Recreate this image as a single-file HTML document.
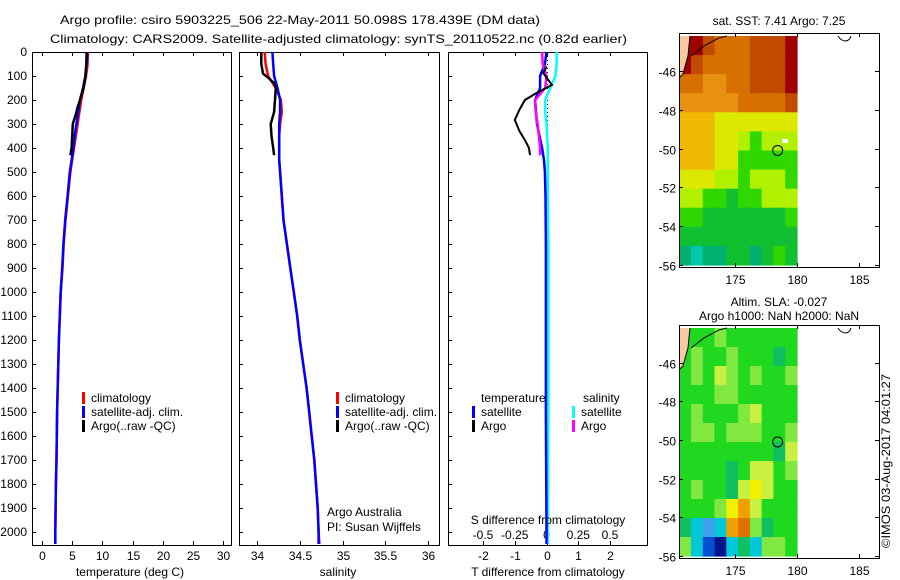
<!DOCTYPE html>
<html><head><meta charset="utf-8"><style>
body{margin:0;background:#fff}
svg{display:block}
text{font-family:"Liberation Sans",sans-serif;font-size:12px;fill:#000}
</style></head><body>
<svg id="fig" width="900" height="580" viewBox="0 0 900 580" xmlns="http://www.w3.org/2000/svg">
<text x="60" y="24" textLength="480" lengthAdjust="spacingAndGlyphs" font-size="13">Argo profile: csiro 5903225_506 22-May-2011 50.098S 178.439E (DM data)</text>
<text x="50" y="43" textLength="577" lengthAdjust="spacingAndGlyphs" font-size="13">Climatology: CARS2009. Satellite-adjusted climatology: synTS_20110522.nc (0.82d earlier)</text>
<g id="g"></g>
<text transform="translate(890,548) rotate(-90)" textLength="174" lengthAdjust="spacingAndGlyphs">©IMOS 03-Aug-2017 04:01:27</text>
</svg>
<script>
// ---- profile data ----
const depthT = [0,50,100,150,200,250,300,350,400,450,500,600,700,800,900,1000,1100,1200,1300,1400,1500,1600,1700,1800,1900,2000,2050];
const tempClim = [7.6,7.55,7.3,6.9,6.5,6.2,5.9,5.6,5.3,5.0,4.7,4.3,3.9,3.6,3.4,3.1,2.95,2.8,2.7,2.6,2.5,2.45,2.4,2.3,2.25,2.2,2.2];
const tempSat = [7.5,7.4,7.2,6.8,6.3,6.0,5.7,5.4,5.2,4.9,4.6,4.25,3.85,3.55,3.35,3.1,2.95,2.8,2.7,2.6,2.5,2.45,2.4,2.3,2.25,2.2,2.2];
const salClim = [34.09,34.1,34.13,34.22,34.28,34.29,34.27,34.26,34.26,34.26,34.27,34.29,34.31,34.35,34.39,34.43,34.47,34.5,34.54,34.58,34.61,34.64,34.67,34.69,34.71,34.72,34.73];
const salSat = [34.18,34.19,34.2,34.24,34.27,34.27,34.26,34.26,34.26,34.26,34.27,34.29,34.31,34.35,34.39,34.43,34.47,34.5,34.54,34.58,34.61,34.64,34.67,34.69,34.71,34.72,34.72];
const depthArgoT = [0,50,100,150,200,230,260,300,350,400,430];
const tempArgo = [7.4,7.35,7.2,6.9,6.3,5.9,5.6,5.1,5.0,4.9,4.7];
const depthArgoS = [0,50,90,110,130,150,200,250,300,350,400,430];
const salArgo = [34.05,34.05,34.07,34.14,34.2,34.22,34.21,34.2,34.16,34.17,34.19,34.2];
const depthD = [0,50,100,150,200,250,300,350,400,450,500,600,800,1000,1500,2000,2050];
const tdiffSat = [0,-0.05,-0.2,-0.2,-0.36,-0.33,-0.3,-0.22,-0.14,-0.08,-0.05,-0.03,-0.02,-0.02,-0.02,0,0];
const sdiffSat = [0.08,0.08,0.07,0.03,-0.01,-0.01,0,0.005,0.01,0.01,0.01,0.01,0.015,0.015,0.015,0.01,0.01];
const depthDA = [60,88,137,170,200,240,283,330,367,400,430];
const tdiffArgo = [0.0,-0.1,0.17,-0.3,-0.68,-0.85,-1.0,-0.85,-0.68,-0.55,-0.52];
const depthSA = [0,50,100,150,200,250,300,350,400,430];
const sdiffArgo = [-0.035,-0.03,0,-0.01,-0.09,-0.085,-0.07,-0.06,-0.05,-0.05];
const depthTicks = [0,100,200,300,400,500,600,700,800,900,1000,1100,1200,1300,1400,1500,1600,1700,1800,1900,2000];
const tempTicks = [0,5,10,15,20,25,30];
const salTicks = [34,34.5,35,35.5,36];
const tdTicks = [-2,-1,0,1,2];
const sdTicks = [-0.5,-0.25,0,0.25,0.5];
// ---- map data (rows top->bottom lat -44.2..-56, cols lon 170.5..180) ----
const sstGrid = [
[9,9,8,7,7,7,8,8,8,9],
[9,8,7,7,7,7,8,8,8,9],
[7,7,6,6,7,7,8,8,8,9],
[6,6,6,6,6,7,7,7,7,8],
[5,5,5,4,4,4,4,4,4,4],
[5,5,5,4,4,3,2,3,3,3],
[5,5,5,4,4,2,2,2,2,2],
[4,4,4,3,3,2,3,3,3,2],
[3,3,2,2,1,2,2,3,3,3],
[2,2,1,1,1,1,1,1,1,2],
[1,1,1,1,1,1,1,1,1,1],
[0,-1,0,0,1,1,0,1,2,1]];
const slaGrid = [
[1,1,1,2,1,1,1,1,1,1],
[1,2,1,1,2,1,1,1,0,1],
[1,2,1,3,2,1,2,1,1,2],
[1,1,1,2,2,1,1,1,1,1],
[1,2,1,1,1,2,3,1,1,1],
[1,2,2,1,2,2,2,1,1,2],
[1,1,1,1,1,1,1,1,0,3],
[1,1,1,1,0,1,3,3,1,2],
[1,2,1,1,0,3,4,3,1,1],
[1,1,1,2,4,5,3,1,1,1],
[0,-1,-2,-1,5,6,2,0,1,1],
[2,-1,-3,-4,-1,0,-1,2,2,1]];
const mapLonTicks = [175,180,185];
const mapLatTicks = [-46,-48,-50,-52,-54,-56];
const argoLon = 178.439, argoLat = -50.098;

const NS="http://www.w3.org/2000/svg";
const G=document.getElementById('g');
function el(tag,attrs,parent){const e=document.createElementNS(NS,tag);for(const k in attrs)e.setAttribute(k,attrs[k]);(parent||G).appendChild(e);return e;}
function txt(x,y,s,anchor,parent){const t=el('text',{x:x,y:y,'text-anchor':anchor||'start'},parent);t.textContent=s;return t;}

const yTop=52,yBot=545;
const yD=d=>yTop+d*0.24;
function lin(d0,d1,r0,r1){return v=>r0+(v-d0)/(d1-d0)*(r1-r0);}
const xT=lin(0,30,42,223), xS=lin(34,36,257,428), xTd=lin(0,2,546.5,610), xSd=lin(0,0.5,546.5,610);

function panel(x0,x1,name){
  const g=el('g',{});
  
  
  return g;
}
function frame(g,x0,x1){
  const r=el('rect',{x:x0+0.5,y:yTop+0.5,width:x1-x0,height:yBot-yTop,fill:'none',stroke:'#000','stroke-width':1},g);
  
  
  depthTicks.forEach(d=>{el('line',{x1:x0,x2:x0+4,y1:yD(d)+0.5,y2:yD(d)+0.5,stroke:'#000'},g);});
}
function line(g,xs,ds,xf,color,name,w){
  const p=el('polyline',{points:xs.map((v,i)=>xf(v).toFixed(1)+','+yD(ds[i]).toFixed(1)).join(' '),fill:'none',stroke:color,'stroke-width':w||2.5},g);
  
  
}
function xticks(g,ticks,xf,y,labels){
  ticks.forEach(t=>{const x=Math.round(xf(t))+0.5;
    el('line',{x1:x,x2:x,y1:yBot,y2:yBot-4,stroke:'#000'},g);
    el('line',{x1:x,x2:x,y1:yTop,y2:yTop+4,stroke:'#000'},g);
    if(labels){const l=txt(x,y,String(t),'middle',g);}
  });
}
function legendEntry(g,x,y,color,label){
  const e=el('g',{},g);
  
  
  el('rect',{x:x,y:y-10,width:3,height:12,fill:color},e);
  txt(x+9,y,label,'start',e);
}

// y tick labels
const yl=el('g',{});


depthTicks.forEach(d=>{const t=txt(27,yD(d)+4,String(d),'end',yl);});

// panel 1: temperature
const p1=panel(32,231,'temperature-panel');
frame(p1,32,231);
xticks(p1,tempTicks,xT,560,true);
line(p1,tempClim,depthT,xT,'#ff0000','climatology-temperature-line');
line(p1,tempSat,depthT,xT,'#0000ff','satellite-temperature-line');
line(p1,tempArgo,depthArgoT,xT,'#000000','argo-temperature-line');
legendEntry(p1,82,402,'#ff0000','climatology');
legendEntry(p1,82,416,'#0000ff','satellite-adj. clim.');
legendEntry(p1,82,430,'#000000','Argo(..raw -QC)');
let t=txt(130,576,'temperature (deg C)','middle',p1);

// panel 2: salinity
const p2=panel(239,439,'salinity-panel');
frame(p2,239,439);
xticks(p2,salTicks,xS,560,true);
line(p2,salClim,depthT,xS,'#ff0000','climatology-salinity-line');
line(p2,salSat,depthT,xS,'#0000ff','satellite-salinity-line');
line(p2,salArgo,depthArgoS,xS,'#000000','argo-salinity-line');
legendEntry(p2,336,402,'#ff0000','climatology');
legendEntry(p2,336,416,'#0000ff','satellite-adj. clim.');
legendEntry(p2,336,430,'#000000','Argo(..raw -QC)');
t=txt(327,516,'Argo Australia','start',p2);
t=txt(327,531,'PI: Susan Wijffels','start',p2);
t=txt(338,576,'salinity','middle',p2);

// panel 3: differences
const p3=panel(448,647,'difference-panel');
frame(p3,448,647);
xticks(p3,tdTicks,xTd,560,true);
sdTicks.forEach(s=>{const l=txt(xSd(s),539,String(s),'middle',p3);});
el('line',{x1:547.5,x2:547.5,y1:yTop,y2:yBot,stroke:'#000','stroke-dasharray':'1,3'},p3);
line(p3,sdiffSat,depthD,xSd,'#00ffff','satellite-salinity-diff-line');
line(p3,tdiffSat,depthD,xTd,'#0000ff','satellite-temperature-diff-line');
line(p3,sdiffArgo,depthSA,xSd,'#ff00ff','argo-salinity-diff-line');
line(p3,tdiffArgo,depthDA,xTd,'#000000','argo-temperature-diff-line',2);
txt(481,402,'temperature','start',p3);
txt(583,402,'salinity','start',p3);
legendEntry(p3,472,416,'#0000ff','satellite');
legendEntry(p3,472,430,'#000000','Argo');
legendEntry(p3,572,416,'#00ffff','satellite');
legendEntry(p3,572,430,'#ff00ff','Argo');
t=txt(548,524,'S difference from climatology','middle',p3);
t=txt(548,576,'T difference from climatology','middle',p3);

// maps
const sstColors={'-1':'#00c8a8','0':'#00b070','1':'#10c030','2':'#30d800','3':'#b0f000','4':'#dce800','5':'#f0b800','6':'#e89010','7':'#d87000','8':'#c04a00','9':'#a00000'};
const slaColors={'-4':'#001490','-3':'#0050d0','-2':'#40a0f0','-1':'#00c8d8','0':'#10c060','1':'#20d820','2':'#80e840','3':'#c8f040','4':'#f0f000','5':'#f0a000','6':'#e07000'};
function drawMap(name,y0,y1,grid,colors,title1,title2){
  const g=el('g',{});
  
  
  const x0=679,x1=879;
  const lonX=lin(175,185,735,859);
  const latY=lin(-46,-56,y0+(y1-y0)*0.162,y1-2);
  const latTop=-44.2;
  const nr=grid.length,nc=grid[0].length;
  const dLat=(latTop+56)/nr, dLon=(180-170.5)/nc;
  grid.forEach((row,i)=>row.forEach((v,j)=>{
    const xa=lonX(170.5+j*dLon),xb=lonX(170.5+(j+1)*dLon);
    const ya=latY(latTop-i*dLat),yb=latY(latTop-(i+1)*dLat);
    const c=el('rect',{x:xa.toFixed(1),y:ya.toFixed(1),width:(xb-xa+0.6).toFixed(1),height:(yb-ya+0.6).toFixed(1),fill:colors[String(v)]},g);
    
    
  }));
  // land (NZ corner)
  const ly=latY(latTop);
  el('path',{d:`M${x0},${ly} L${x0+11},${ly} L${x0+9},${ly+20} L${x0+4},${ly+38} L${x0},${ly+42} Z`,fill:'#f8c8a0'},g);
  el('path',{d:`M${x0+11},${ly} L${x0+9},${ly+20} L${x0+4},${ly+38} L${x0},${ly+42} M${x0+12},${ly+20} L${x0+25},${ly+10} L${x0+40},${ly+2} L${x0+48},${ly}`,fill:'none',stroke:'#000','stroke-width':1},g);
  el('path',{d:`M838,${ly} q3,5 8,5 q4,-1 5,-5`,fill:'none',stroke:'#000'},g);
  // Argo position
  const c=el('circle',{cx:lonX(argoLon),cy:latY(argoLat),r:5,fill:'none',stroke:'#000','stroke-width':1},g);
  
  
  el('rect',{x:x0+0.5,y:y0+0.5,width:x1-x0,height:y1-y0,fill:'none',stroke:'#000'},g);
  mapLonTicks.forEach(l=>{const x=Math.round(lonX(l))+0.5;el('line',{x1:x,x2:x,y1:y1,y2:y1-4,stroke:'#000'},g);el('line',{x1:x,x2:x,y1:y0,y2:y0+4,stroke:'#000'},g);txt(x,y1+17,String(l),'middle',g);});
  mapLatTicks.forEach(l=>{const y=Math.round(latY(l))+0.5;el('line',{x1:x0,x2:x0+4,y1:y,y2:y,stroke:'#000'},g);el('line',{x1:x1,x2:x1-4,y1:y,y2:y,stroke:'#000'},g);txt(x0-3,y+5,String(l),'end',g);});
  let tt=txt(779,title2?y0-19:y0-8,title1,'middle',g);
  if(title2){tt=txt(779,y0-5,title2,'middle',g);}
  return {lonX,latY};
}
const m1=drawMap('sst-map',33,267,sstGrid,sstColors,'sat. SST: 7.41 Argo: 7.25');
el('rect',{x:782,y:139,width:6,height:4,fill:'#fff'});
drawMap('sla-map',325,558,slaGrid,slaColors,'Altim. SLA: -0.027','Argo h1000: NaN h2000: NaN');
</script>
</body></html>
